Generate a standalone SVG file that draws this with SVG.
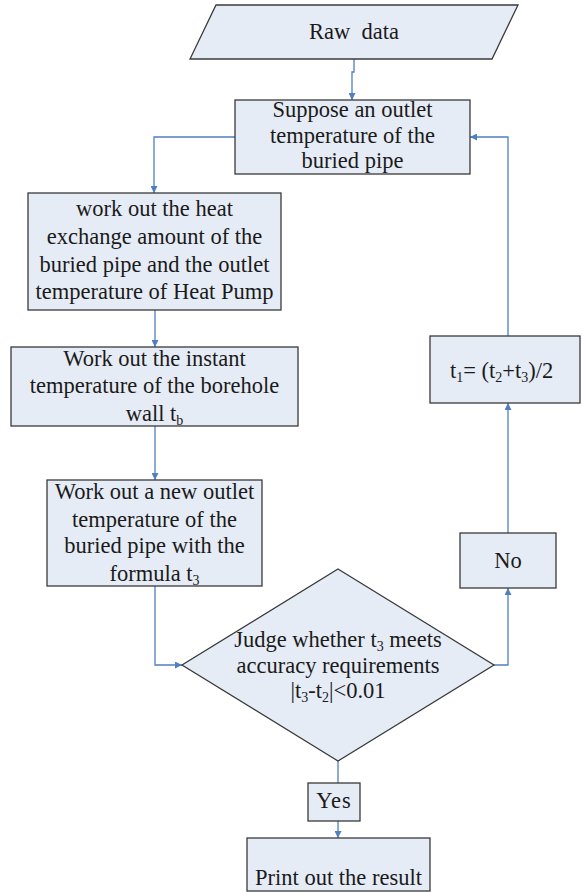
<svg xmlns="http://www.w3.org/2000/svg" width="582" height="892" viewBox="0 0 582 892">
  <defs>
    <marker id="arr" viewBox="0 0 10 10" refX="10" refY="5" markerWidth="7" markerHeight="7" orient="auto" markerUnits="userSpaceOnUse">
      <path d="M0,0 L10,5 L0,10 z" fill="#4F7FC0"/>
    </marker>
    <style>
      .shape { fill: #E6ECF6; stroke: #3a3a3a; stroke-width: 1.3; }
      .lbl { font-family: 'Liberation Serif', 'DejaVu Serif', serif; font-size: 22.5px; fill: #1a1a1a; text-anchor: middle; }
      .sub { font-size: 14px; }
      .conn { fill: none; stroke: #4F7FC0; stroke-width: 1.3; }
    </style>
  </defs>
  <rect width="582" height="892" fill="#ffffff"/>

  <g id="connectors">
    <path class="conn" d="M354,59 V72 H352 V100" marker-end="url(#arr)"/>
    <path class="conn" d="M235,137 H154 V193" marker-end="url(#arr)"/>
    <path class="conn" d="M155,310 V347" marker-end="url(#arr)"/>
    <path class="conn" d="M155,426 V480" marker-end="url(#arr)"/>
    <path class="conn" d="M155,586 V665 H182" marker-end="url(#arr)"/>
    <path class="conn" d="M494,665 H508 V588" marker-end="url(#arr)"/>
    <path class="conn" d="M508,533 V403" marker-end="url(#arr)"/>
    <path class="conn" d="M508,336 V137 H470" marker-end="url(#arr)"/>
    <path class="conn" d="M338,759 V783"/>
    <path class="conn" d="M338,821 V838" marker-end="url(#arr)"/>
  </g>

  <g id="raw-data">
    <polygon class="shape" points="216,5 518,5 492,59 190,59"/>
    <text class="lbl" x="354" y="39" xml:space="preserve">Raw  data</text>
  </g>

  <g id="suppose">
    <rect class="shape" x="235" y="100" width="235" height="74"/>
    <text class="lbl" x="352.5" y="117">Suppose an outlet</text>
    <text class="lbl" x="352.5" y="143">temperature of the</text>
    <text class="lbl" x="352.5" y="168">buried pipe</text>
  </g>

  <g id="heat-exchange">
    <rect class="shape" x="28" y="193" width="253" height="117"/>
    <text class="lbl" x="154.5" y="216">work out the heat</text>
    <text class="lbl" x="154.5" y="244">exchange amount of the</text>
    <text class="lbl" x="154.5" y="272">buried pipe and the outlet</text>
    <text class="lbl" x="154.5" y="299">temperature of Heat Pump</text>
  </g>

  <g id="borehole">
    <rect class="shape" x="11" y="347" width="287" height="79"/>
    <text class="lbl" x="154.5" y="366">Work out the instant</text>
    <text class="lbl" x="154.5" y="393">temperature of the borehole</text>
    <text class="lbl" x="154.5" y="421">wall t<tspan class="sub" dy="4">b</tspan></text>
  </g>

  <g id="new-outlet">
    <rect class="shape" x="47" y="480" width="215" height="106"/>
    <text class="lbl" x="154.5" y="499">Work out a new outlet</text>
    <text class="lbl" x="154.5" y="527">temperature of the</text>
    <text class="lbl" x="154.5" y="553">buried pipe with the</text>
    <text class="lbl" x="154.5" y="581">formula t<tspan class="sub" dy="4">3</tspan></text>
  </g>

  <g id="judge">
    <polygon class="shape" points="338,569 494,665 338,761 182,665"/>
    <text class="lbl" x="338" y="647">Judge whether t<tspan class="sub" dy="4">3</tspan><tspan dy="-4"> meets</tspan></text>
    <text class="lbl" x="338" y="673">accuracy requirements</text>
    <text class="lbl" x="338" y="698">|t<tspan class="sub" dy="4">3</tspan><tspan dy="-4">-t</tspan><tspan class="sub" dy="4">2</tspan><tspan dy="-4">|&lt;0.01</tspan></text>
  </g>

  <g id="no">
    <rect class="shape" x="460" y="533" width="96" height="55"/>
    <text class="lbl" x="508" y="568">No</text>
  </g>

  <g id="average">
    <rect class="shape" x="430" y="336" width="150" height="67"/>
    <text class="lbl" x="450" y="378" style="text-anchor:start">t<tspan class="sub" dy="4">1</tspan><tspan dy="-4">= (t</tspan><tspan class="sub" dy="4">2</tspan><tspan dy="-4">+t</tspan><tspan class="sub" dy="4">3</tspan><tspan dy="-4">)/2</tspan></text>
  </g>

  <g id="yes">
    <rect class="shape" x="308" y="783" width="52" height="38"/>
    <text class="lbl" x="334" y="808" letter-spacing="1">Yes</text>
  </g>

  <g id="print">
    <rect class="shape" x="247" y="838" width="183" height="53"/>
    <text class="lbl" x="338.5" y="885">Print out the result</text>
  </g>
</svg>
